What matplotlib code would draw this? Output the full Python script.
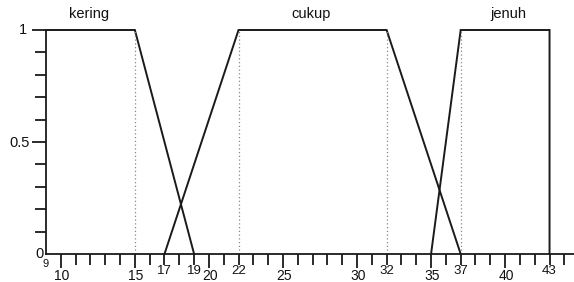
import matplotlib
matplotlib.use("Agg")
import matplotlib.pyplot as plt
import matplotlib.transforms as mtransforms

plt.rcParams['font.family'] = ['Liberation Sans', 'DejaVu Sans']

# membership functions (x breakpoints, membership values)
kering_x = [9, 15, 19]
kering_y = [1, 1, 0]
cukup_x = [17, 22, 32, 37]
cukup_y = [0, 1, 1, 0]
jenuh_x = [35, 37, 43, 43]
jenuh_y = [0, 1, 1, 0]
set_names = ["kering", "cukup", "jenuh"]
name_x = [11.9, 26.9, 40.2]
dotted_x = [15, 22, 32, 37]
low_labels = [10, 15, 20, 25, 30, 35, 40]
high_labels = [17, 19, 22, 32, 37, 43]
y_labels = ["0", "0.5", "1"]
y_label_vals = [0, 0.5, 1]

W, H = 574, 282
fig = plt.figure(figsize=(W / 100, H / 100), dpi=100)
ax = fig.add_axes([46 / W, 28 / H, 528 / W, 254 / H])
ax.set_xlim(9, 9 + 528 / 14.81)
ax.set_ylim(0, 254 / 224)

lc = '#1a1a1a'
tc = '#111111'
for xs, ys in [(kering_x, kering_y), (cukup_x, cukup_y), (jenuh_x, jenuh_y)]:
    ax.plot(xs, ys, color=lc, lw=1.4, clip_on=False, solid_joinstyle='miter')
for xv in dotted_x:
    ax.plot([xv, xv], [0, 1], color='#888888', lw=0.9, ls=(0, (1, 2)))
for name, xv in zip(set_names, name_x):
    ax.text(xv, 1.07, name, ha='center', va='center', fontsize=10.5, color=tc)

for s in ['top', 'right']:
    ax.spines[s].set_visible(False)
ax.spines['left'].set_bounds(0, 1)
for s in ['left', 'bottom']:
    ax.spines[s].set_linewidth(1.3)
    ax.spines[s].set_color(lc)

ax.set_xticks(list(range(10, 45, 5)))
ax.set_xticks([v for v in range(10, 45) if v % 5], minor=True)
ax.set_yticks([0.5, 1])
ax.set_yticks([i / 10 for i in range(1, 10) if i != 5], minor=True)
ax.set_xticklabels([])
ax.set_yticklabels([])
ax.tick_params(axis='both', which='major', direction='out', length=10, width=1.3, color=lc)
ax.tick_params(axis='both', which='minor', direction='out', length=8, width=1.3, color=lc)


def off(tr, dx, dy):
    return mtransforms.offset_copy(tr, fig=fig, x=dx, y=dy, units='dots')


bt = ax.get_xaxis_transform()
for v in low_labels:
    ax.text(v, 0, str(v), transform=off(bt, 1, -25.5),
            ha='center', va='baseline', fontsize=10, color=tc)
for v in high_labels:
    ax.text(v, 0, str(v), transform=off(bt, 0, -20),
            ha='center', va='baseline', fontsize=9.5, color=tc)
ax.text(9, 0, "9", transform=off(bt, -0.5, -13),
        ha='center', va='baseline', fontsize=8, color=tc)

yt = ax.get_yaxis_transform()
for lab, v in zip(y_labels, y_label_vals):
    if v == 0:
        ax.text(0, v, lab, transform=off(yt, -6, -4),
                ha='center', va='baseline', fontsize=10.5, color=tc)
    else:
        dx = -19 if v == 1 else -16
        dy = 0 if v == 1 else -1
        ax.text(0, v, lab, transform=off(yt, dx, dy),
                ha='right', va='center', fontsize=10.5, color=tc)

fig.savefig("out.png", dpi=100)
